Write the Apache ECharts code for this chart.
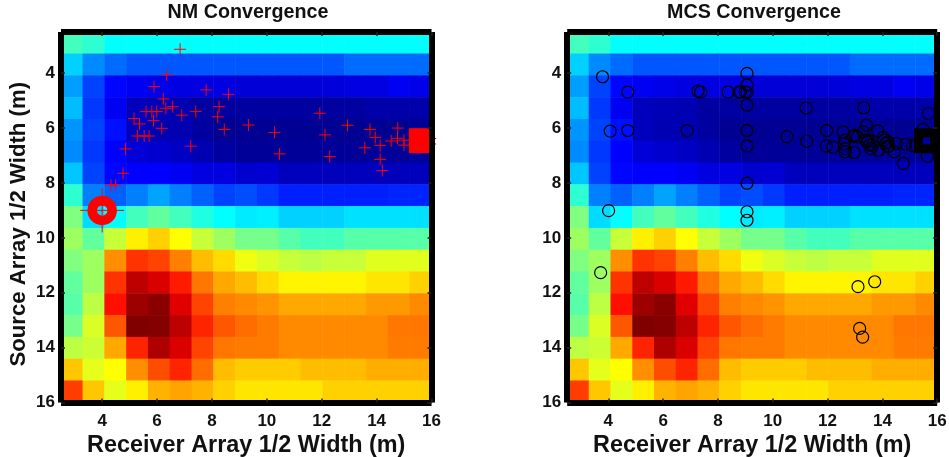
<!DOCTYPE html>
<html><head><meta charset="utf-8">
<style>html,body{margin:0;padding:0;background:#fff}#c{width:949px;height:457px}</style>
<script src="https://cdn.jsdelivr.net/npm/echarts@6/dist/echarts.min.js"></script>
</head><body><div id="c"></div>
<script>
const tickValues = [4, 6, 8, 10, 12, 14, 16];
const cellCenters = ['2.9','3.7','4.5','5.3','6.1','6.9','7.7','8.5','9.3','10.1','10.9','11.7','12.5','13.3','14.1','14.9','15.6'];
const row00 = [.44,.42,.375,.375,.375,.375,.375,.375,.375,.375,.375,.375,.375,.375,.375,.375,.375];
const row01 = [.33,.26,.23,.21,.21,.21,.21,.21,.21,.21,.21,.21,.21,.23,.23,.23,.23];
const row02 = [.28,.19,.13,.11,.10,.09,.09,.09,.08,.08,.08,.08,.085,.09,.09,.11,.10];
const row03 = [.31,.18,.11,.05,.045,.04,.02,.02,.02,.02,.02,.02,.02,.02,.03,.03,.03];
const row04 = [.27,.19,.14,.05,.04,.04,.02,.005,.005,.005,.005,.005,.005,.005,.005,.005,.005];
const row05 = [.26,.18,.125,.08,.07,.06,.04,.02,.01,.01,.01,.01,.01,.01,.01,.01,.015];
const row06 = [.32,.19,.13,.125,.125,.11,.09,.09,.07,.075,.05,.05,.05,.05,.05,.05,.05];
const row07 = [.42,.25,.22,.25,.285,.25,.22,.19,.20,.18,.155,.155,.155,.155,.155,.16,.16];
const row08 = [.50,.34,.375,.44,.47,.44,.405,.375,.355,.36,.33,.33,.33,.345,.345,.345,.345];
const row09 = [.53,.47,.57,.64,.67,.625,.57,.53,.49,.49,.46,.44,.44,.46,.46,.46,.46];
const row10 = [.50,.53,.735,.825,.81,.75,.69,.66,.61,.59,.57,.56,.57,.57,.595,.595,.595];
const row11 = [.47,.53,.825,.94,.91,.85,.76,.71,.69,.66,.635,.635,.635,.635,.65,.65,.67];
const row12 = [.46,.56,.86,.97,.99,.905,.81,.75,.74,.73,.71,.71,.71,.71,.725,.725,.74];
const row13 = [.49,.59,.79,1,.995,.94,.84,.79,.77,.755,.74,.74,.74,.74,.74,.76,.76];
const row14 = [.56,.575,.71,.84,.955,.91,.81,.76,.755,.755,.74,.74,.74,.74,.74,.755,.755];
const row15 = [.68,.60,.625,.735,.80,.84,.77,.69,.675,.675,.675,.69,.69,.69,.705,.705,.705];
const row16 = [.815,.68,.60,.64,.70,.715,.70,.67,.65,.65,.65,.65,.67,.67,.67,.67,.67];
const surface = [row00,row01,row02,row03,row04,row05,row06,row07,row08,row09,row10,row11,row12,row13,row14,row15,row16];

const nmPoints = [[6.84,3.13],[6.35,4.07],[5.89,4.49],[7.79,4.61],[8.60,4.77],[6.23,4.94],[6.32,5.28],[6.57,5.22],[8.26,5.22],[5.60,5.40],[5.81,5.40],[5.99,5.40],[5.16,5.65],[5.36,5.85],[5.87,5.73],[6.90,5.53],[7.41,5.40],[8.21,5.59],[6.17,6.01],[8.45,6.05],[9.33,5.89],[5.28,6.29],[5.53,6.29],[5.71,6.29],[7.23,6.66],[4.85,6.76],[4.76,7.65],[4.32,8.08],[4.49,8.08],[10.28,6.16],[10.46,6.94],[11.93,5.46],[12.94,5.90],[12.12,6.25],[12.29,7.04],[13.57,6.72],[13.76,6.05],[13.95,6.34],[14.13,6.63],[14.13,7.14],[14.21,7.55],[14.77,6.0],[14.76,6.37],[14.53,6.47],[15.0,6.44],[15.0,6.62],[15.95,6.38],[15.95,6.58]];
const nmStart = [[4, 9]];
const nmEnd = [[15.63, 6.46]];
const mcsPoints = [[3.79,4.13],[4.71,4.69],[4.07,6.11],[4.71,6.09],[6.88,6.09],[7.27,4.65],[7.37,4.69],[8.37,4.69],[8.77,4.69],[4.01,9.01],[3.72,11.27],[9.06,4.01],[9.06,4.43],[9.06,4.70],[8.99,4.68],[8.83,4.68],[9.06,5.16],[9.06,6.09],[9.06,6.65],[9.06,8.01],[9.06,9.05],[9.06,9.36],[10.52,6.31],[11.22,5.27],[11.24,6.48],[11.97,6.09],[11.96,6.65],[12.2,6.70],[12.57,6.14],[12.64,6.44],[12.6,6.59],[12.64,6.75],[12.64,6.87],[12.97,6.89],[12.93,6.30],[13.0,6.26],[13.3,6.14],[13.42,5.89],[13.32,5.26],[13.83,6.10],[13.45,6.50],[13.54,6.62],[13.49,6.44],[13.64,6.62],[14.03,6.34],[14.12,6.56],[14.06,6.44],[13.85,6.81],[14.24,6.66],[14.43,6.87],[14.51,6.56],[14.76,7.29],[14.85,6.59],[15.1,6.64],[15.22,6.64],[15.49,6.05],[15.68,5.47],[15.64,7.03],[13.09,6.32],[13.39,6.44],[13.58,6.75],[14.18,6.68],[14.2,6.5],[13.11,11.78],[13.72,11.60],[13.17,13.30],[13.28,13.62]];
const mcsEnd = [[15.61, 6.46]];

const jet = ['#00008f','#0000ff','#0080ff','#00ffff','#80ff80','#ffff00','#ff8000','#ff0000','#800000'];
const font = 'Liberation Sans';
const heat = [];
surface.forEach((r, j) => r.forEach((v, i) => heat.push([i, j, v])));

const plus = 'path://M0 6H12M6 0V12';
const frameLine = {show:true, onZero:false, lineStyle:{color:'#000', width:6, cap:'butt'}};
const tick = {show:true, inside:true, length:4, customValues:tickValues, lineStyle:{color:'#222', width:1.5}};
const lbl = (margin) => ({show:true, customValues:tickValues, color:'#111', fontFamily:font, fontWeight:'bold', fontSize:17, margin, hideOverlap:false});

function axes(dim, g, name, gap, size, padding) {
  const inv = dim === 'y';
  const first = {type:'value', gridIndex:g, min:2.5, max:16, inverse:inv, z:6,
    position: inv?'left':'bottom', axisLine:frameLine, axisTick:tick,
    axisLabel:lbl(inv?6:10), splitLine:{show:false}};
  if (name) Object.assign(first, {name, nameLocation:'middle', nameGap:gap, nameRotate: inv?90:0,
    nameTextStyle:{color:'#111', fontFamily:font, fontWeight:'bold', fontSize:size, padding}});
  const second = {type:'value', gridIndex:g, min:2.5, max:16, inverse:inv, z:6,
    position: inv?'right':'top', axisLine:frameLine, axisTick:tick,
    axisLabel:{show:false}, splitLine:{show:false}};
  const cat = {type:'category', gridIndex:g, data:cellCenters, inverse:inv, show:false, boundaryGap:true};
  return [first, second, cat];
}
const xAxis = [...axes('x',0,'Receiver Array 1/2 Width (m)',29,23.4,0), ...axes('x',1,'Receiver Array 1/2 Width (m)',29,23.4,0)];
const yAxis = [...axes('y',0,'Source Array 1/2 Width (m)',31,22.2,[0,14,0,0]), ...axes('y',1,null)];

const scatter = (name, xi, data, o) => Object.assign({type:'scatter', name, xAxisIndex:xi, yAxisIndex:xi, data, silent:true, clip:false, z:3}, o);
const red = '#ff0000';

const option = {
  animation:false,
  backgroundColor:'#fff',
  title:[
    {text:'NM Convergence', left:243, top:-2, textAlign:'center', textStyle:{color:'#111', fontFamily:font, fontWeight:'bold', fontSize:19.7}},
    {text:'MCS Convergence', left:749, top:-2, textAlign:'center', textStyle:{color:'#111', fontFamily:font, fontWeight:'bold', fontSize:19.7}}
  ],
  grid:[
    {left:61, top:32, width:370.5, height:370.5, outerBoundsMode:'none'},
    {left:567.2, top:32, width:370, height:370.5, outerBoundsMode:'none'}
  ],
  xAxis, yAxis,
  visualMap:{show:false, type:'continuous', min:0, max:1, seriesIndex:[0,1], inRange:{color:jet}},
  series:[
    {type:'heatmap', name:'NM surface', xAxisIndex:2, yAxisIndex:2, data:heat, silent:true, z:2, itemStyle:{borderWidth:0}},
    {type:'heatmap', name:'MCS surface', xAxisIndex:5, yAxisIndex:5, data:heat, silent:true, z:2, itemStyle:{borderWidth:0}},
    scatter('NM end', 0, nmEnd, {symbol:'rect', symbolSize:25, itemStyle:{color:red, opacity:1}}),
    scatter('NM iterations', 0, nmPoints, {symbol:plus, symbolSize:12, itemStyle:{color:'transparent', borderColor:red, borderWidth:1, opacity:1}}),
    scatter('NM start', 0, nmStart, {symbol:'circle', symbolSize:20, itemStyle:{color:'transparent', borderColor:red, borderWidth:9.5, opacity:1}}),
    scatter('NM start cross', 0, nmStart, {symbol:plus, symbolSize:44, itemStyle:{color:'transparent', borderColor:red, borderWidth:1, opacity:1}}),
    scatter('MCS end', 3, mcsEnd, {symbol:'rect', symbolSize:16, itemStyle:{color:'transparent', borderColor:'#000', borderWidth:9, opacity:1}}),
    scatter('MCS samples', 3, mcsPoints, {symbol:'circle', symbolSize:12, itemStyle:{color:'transparent', borderColor:'#000', borderWidth:1.2, opacity:1}})
  ]
};
echarts.init(document.getElementById('c'), null, {renderer:'canvas'}).setOption(option);
</script></body></html>
